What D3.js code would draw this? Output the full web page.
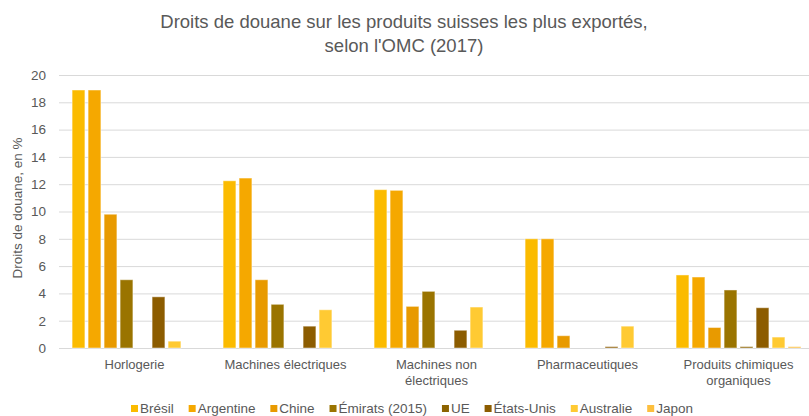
<!DOCTYPE html>
<html>
<head>
<meta charset="utf-8">
<script src="https://cdn.jsdelivr.net/npm/d3@7"></script>
<style>
  body { margin: 0; background: #fff; }
  text { font-family: "Liberation Sans", Arial, sans-serif; fill: #595959; }
</style>
</head>
<body>
<script>
// Data (tariffs in %)
var categories = ["Horlogerie", "Machines électriques", "Machines non électriques", "Pharmaceutiques", "Produits chimiques organiques"];
var seriesNames = ["Brésil", "Argentine", "Chine", "Émirats (2015)", "UE", "États-Unis", "Australie", "Japon"];
var bresil    = [18.9, 12.25, 11.6, 8.0, 5.35];
var argentine = [18.9, 12.45, 11.55, 8.0, 5.2];
var chine     = [9.8, 5.0, 3.05, 0.9, 1.5];
var emirats   = [5.0, 3.2, 4.15, 0, 4.25];
var ue        = [0, 0, 0, 0, 0.1];
var etatsunis = [3.75, 1.6, 1.3, 0.1, 2.95];
var australie = [0.5, 2.8, 3.0, 1.6, 0.8];
var japon     = [0, 0, 0, 0, 0.1];
var yTicks = [0, 2, 4, 6, 8, 10, 12, 14, 16, 18, 20];
var colors = ["#FBBB00", "#F5A800", "#E89A00", "#9A7400", "#8C6300", "#8C5C00", "#FFCA33", "#FDBF3E"];

var allValues = [bresil, argentine, chine, emirats, ue, etatsunis, australie, japon];

var width = 809, height = 416;
var svg = d3.select("body").append("svg")
  .attr("width", width)
  .attr("height", height);

// Scales
var x0 = d3.scaleBand().domain(categories).range([59, 814]);
var x1 = d3.scaleBand().domain(seriesNames)
  .range([11.5, x0.bandwidth() - 11.5])
  .paddingInner(0.2).paddingOuter(0.1);
var y = d3.scaleLinear().domain([0, 20]).range([348, 75]);
var color = d3.scaleOrdinal().domain(seriesNames).range(colors);

// Gridlines + y labels
var yAxis = svg.append("g")
  .attr("transform", "translate(59,0)")
  .call(d3.axisLeft(y).tickValues(yTicks).tickSize(-(width - 59)).tickPadding(13));
yAxis.select(".domain").remove();
yAxis.selectAll(".tick line").attr("stroke", "#d9d9d9").attr("stroke-width", 1);
yAxis.selectAll(".tick text")
  .style("font-family", "Liberation Sans, Arial, sans-serif")
  .style("font-size", "13.5px")
  .attr("fill", "#595959");

// Bars
var table = [];
categories.forEach(function(c, i) {
  seriesNames.forEach(function(s, j) {
    table.push({ cat: c, series: s, value: allValues[j][i] });
  });
});

svg.append("g").selectAll("rect")
    .data(table.filter(function(d) { return d.value > 0; })).enter()
  .append("rect")
    .attr("x", function(d) { return x0(d.cat) + x1(d.series); })
    .attr("y", function(d) { return y(d.value); })
    .attr("width", x1.bandwidth())
    .attr("height", function(d) { return y(0) - y(d.value); })
    .attr("fill", function(d) { return color(d.series); })
    .attr("stroke", "#fff")
    .attr("stroke-opacity", 0.45)
    .attr("stroke-width", 1);

// Category labels (wrapped)
function wrapLabel(sel, maxW) {
  sel.each(function(d) {
    var t = d3.select(this), words = d.split(" "), line = [], lines = [];
    var tsp = t.append("tspan");
    words.forEach(function(w) {
      line.push(w);
      tsp.text(line.join(" "));
      if (tsp.node().getComputedTextLength() > maxW && line.length > 1) {
        line.pop();
        lines.push(line.join(" "));
        line = [w];
      }
    });
    lines.push(line.join(" "));
    tsp.remove();
    lines.forEach(function(l, k) {
      t.append("tspan").attr("x", t.attr("x")).attr("dy", k === 0 ? 0 : 16).text(l);
    });
  });
}

svg.append("g").selectAll("text")
    .data(categories).enter()
  .append("text")
    .attr("x", function(d) { return x0(d) + x0.bandwidth() / 2; })
    .attr("y", 369)
    .attr("text-anchor", "middle")
    .style("font-size", "13px")
    .call(wrapLabel, 132);

// Y axis title
svg.append("text")
  .attr("transform", "translate(22,208) rotate(-90)")
  .attr("text-anchor", "middle")
  .style("font-size", "13.5px")
  .text("Droits de douane, en %");

// Title
var title = svg.append("text")
  .attr("x", 404)
  .attr("text-anchor", "middle")
  .style("font-size", "18.5px");
title.append("tspan").attr("x", 404).attr("y", 28)
  .text("Droits de douane sur les produits suisses les plus exportés,");
title.append("tspan").attr("x", 404).attr("y", 52)
  .text("selon l'OMC (2017)");

// Legend
var legend = svg.append("g");
var items = legend.selectAll("g")
    .data(seriesNames).enter()
  .append("g");
items.append("rect")
  .attr("y", 405).attr("width", 7).attr("height", 7)
  .attr("fill", function(d) { return color(d); });
items.append("text")
  .attr("x", 9).attr("y", 413)
  .style("font-size", "13.5px")
  .text(function(d) { return d; });

var total = 0;
items.each(function() {
  total += 9 + d3.select(this).select("text").node().getComputedTextLength();
});
var gap = (562 - total) / (seriesNames.length - 1), pos = 0;
items.each(function() {
  var g = d3.select(this);
  g.attr("transform", "translate(" + pos + ",0)");
  pos += 9 + g.select("text").node().getComputedTextLength() + gap;
});
legend.attr("transform", "translate(131,0)");
</script>
</body>
</html>
